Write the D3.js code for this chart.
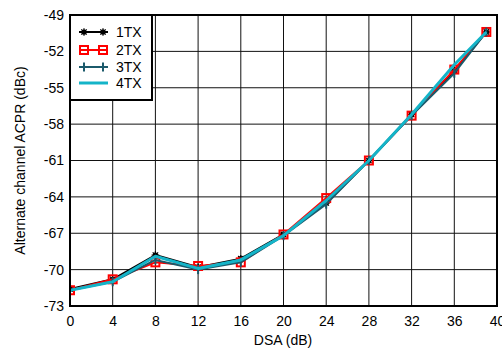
<!DOCTYPE html>
<html><head><meta charset="utf-8">
<script src="https://cdn.jsdelivr.net/npm/d3@7"></script>
<style>body{margin:0;background:#fff}svg{display:block}</style>
</head><body><svg id="c" width="502" height="350"></svg>
<script>
const dsa = [0, 4, 8, 12, 16, 20, 24, 28, 32, 36, 39];
const tx1 = [-71.6, -70.8, -68.8, -69.8, -69.1, -67.1, -64.5, -61.0, -57.2, -53.6, -50.4];
const tx2 = [-71.7, -70.8, -69.4, -69.7, -69.4, -67.1, -64.1, -61.0, -57.3, -53.5, -50.4];
const tx3 = [-71.7, -71.0, -69.2, -70.0, -69.4, -67.2, -64.6, -61.0, -57.3, -53.8, -50.4];
const tx4 = [-71.7, -71.0, -68.9, -69.9, -69.2, -67.2, -64.3, -61.0, -57.2, -53.1, -50.4];
const xTicks = [0, 4, 8, 12, 16, 20, 24, 28, 32, 36, 40];
const yTicks = [-49, -52, -55, -58, -61, -64, -67, -70, -73];
const seriesNames = ["1TX", "2TX", "3TX", "4TX"];

const svg = d3.select("#c");
const L = 70, R = 497, T = 15, B = 306;
const x = d3.scaleLinear().domain([0, 40]).range([L, R]);
const y = d3.scaleLinear().domain([-73, -49]).range([B, T]);
const font = "Liberation Sans, Arial, sans-serif";
const fmt = d => String(d);

// grid
svg.append("g").selectAll("line").data(xTicks.slice(1, -1)).join("line")
  .attr("x1", d => x(d)).attr("x2", d => x(d)).attr("y1", T).attr("y2", B)
  .attr("stroke", "#111").attr("stroke-width", 1);
svg.append("g").selectAll("line").data(yTicks.slice(1, -1)).join("line")
  .attr("y1", d => y(d)).attr("y2", d => y(d)).attr("x1", L).attr("x2", R)
  .attr("stroke", "#111").attr("stroke-width", 1);

// axes labels
const xa = svg.append("g").attr("transform", `translate(0,${B})`)
  .call(d3.axisBottom(x).tickValues(xTicks).tickSize(0).tickPadding(10).tickFormat(fmt));
xa.select(".domain").remove();
xa.selectAll("text").attr("font-family", font).attr("font-size", 14).attr("fill", "#000");
const ya = svg.append("g").attr("transform", `translate(${L},0)`)
  .call(d3.axisLeft(y).tickValues(yTicks).tickSize(0).tickPadding(6).tickFormat(fmt));
ya.select(".domain").remove();
ya.selectAll("text").attr("font-family", font).attr("font-size", 14).attr("fill", "#000");

svg.append("text").attr("x", 283).attr("y", 345).attr("text-anchor", "middle")
  .attr("font-family", font).attr("font-size", 14).text("DSA (dB)");
svg.append("text").attr("transform", `translate(25,${(T + B) / 2}) rotate(-90)`)
  .attr("text-anchor", "middle").attr("font-family", font).attr("font-size", 14)
  .text("Alternate channel ACPR (dBc)");

// clip
svg.append("clipPath").attr("id", "clip").append("rect")
  .attr("x", L).attr("y", T).attr("width", R - L).attr("height", B - T);

const line = d3.line().x((d, i) => x(dsa[i])).y(d => y(d));
const plot = svg.append("g").attr("clip-path", "url(#clip)");

const styles = [
  {data: tx1, color: "#000000", w: 2, marker: "star"},
  {data: tx2, color: "#ff0000", w: 2, marker: "square"},
  {data: tx3, color: "#1b5a6b", w: 2, marker: "plus"},
  {data: tx4, color: "#14b4c8", w: 3, marker: null}
];

function drawMarker(g, type, cx, cy, color) {
  if (type === "star") {
    g.append("circle").attr("cx", cx).attr("cy", cy).attr("r", 2.6).attr("fill", color);
    for (let a = 0; a < 180; a += 45) {
      const r = Math.PI * a / 180, s = 3.8;
      g.append("line").attr("x1", cx - s * Math.cos(r)).attr("y1", cy - s * Math.sin(r))
        .attr("x2", cx + s * Math.cos(r)).attr("y2", cy + s * Math.sin(r))
        .attr("stroke", color).attr("stroke-width", 1.2);
    }
  } else if (type === "square") {
    g.append("rect").attr("x", cx - 4).attr("y", cy - 4).attr("width", 8).attr("height", 8)
      .attr("fill", "none").attr("stroke", color).attr("stroke-width", 2);
  } else if (type === "plus") {
    g.append("line").attr("x1", cx).attr("x2", cx).attr("y1", cy - 4.5).attr("y2", cy + 4.5)
      .attr("stroke", color).attr("stroke-width", 2);
  }
}

styles.forEach(s => {
  plot.append("path").datum(s.data).attr("d", line).attr("fill", "none")
    .attr("stroke", s.color).attr("stroke-width", s.w).attr("stroke-linejoin", "round");
  if (s.marker) {
    const g = plot.append("g");
    s.data.forEach((v, i) => drawMarker(g, s.marker, x(dsa[i]), y(v), s.color));
  }
});

// frame
svg.append("rect").attr("x", L).attr("y", T).attr("width", R - L).attr("height", B - T)
  .attr("fill", "none").attr("stroke", "#000").attr("stroke-width", 2);

// legend
const lg = svg.append("g");
lg.append("rect").attr("x", L).attr("y", T).attr("width", 82).attr("height", 85)
  .attr("fill", "#fff").attr("stroke", "#000").attr("stroke-width", 2);
const ly = [32, 50, 67, 83];
styles.forEach((s, i) => {
  lg.append("line").attr("x1", 79).attr("x2", 108).attr("y1", ly[i]).attr("y2", ly[i])
    .attr("stroke", s.color).attr("stroke-width", s.w);
  if (s.marker) { drawMarker(lg, s.marker, 84, ly[i], s.color); drawMarker(lg, s.marker, 103, ly[i], s.color); }
  lg.append("text").attr("x", 116).attr("y", ly[i] + 5).attr("font-family", font)
    .attr("font-size", 14).text(seriesNames[i]);
});
</script></body></html>
